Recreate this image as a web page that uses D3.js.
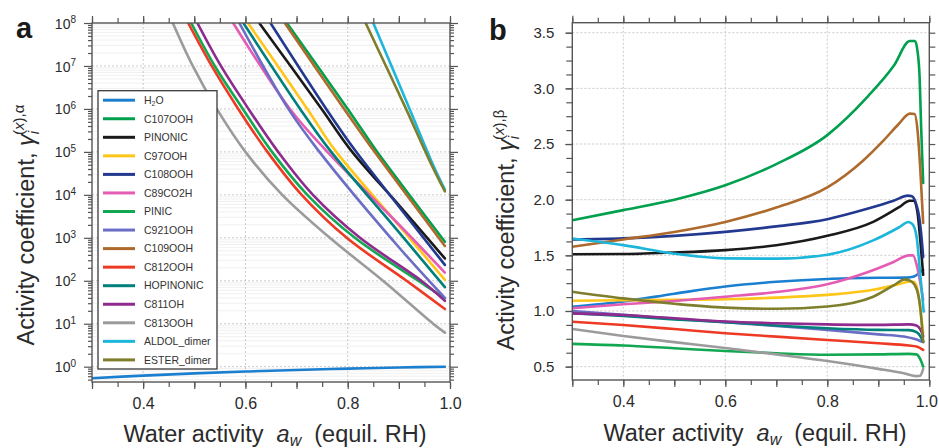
<!DOCTYPE html>
<html><head><meta charset="utf-8">
<script src="https://cdn.jsdelivr.net/npm/d3@7"></script>
<style>
body{margin:0;background:#fff;}
svg{display:block;}
</style></head><body>
<svg id="chart" width="939" height="448"></svg>
<script>
// ---------- data ----------
const seriesNames = ["H2O","C107OOH","PINONIC","C97OOH","C108OOH","C89CO2H","PINIC","C921OOH","C109OOH","C812OOH","HOPINONIC","C811OH","C813OOH","ALDOL_dimer","ESTER_dimer"];
const seriesColors = ["#1b7fd0","#00a04e","#1a1a1a","#ffc619","#22398f","#e45cb3","#12a852","#6b6ec4","#ae6a2c","#ee3a24","#00807a","#8f2a8f","#9b9b9b","#1db6db","#7e7e2c"];

const xTickValues = [0.4, 0.6, 0.8, 1.0];
const xTickLabels = ["0.4", "0.6", "0.8", "1.0"];
const yTickValuesA = [1e0, 1e1, 1e2, 1e3, 1e4, 1e5, 1e6, 1e7, 1e8];
const yTickExponentsA = ["0","1","2","3","4","5","6","7","8"];
const yTickValuesB = [0.5, 1.0, 1.5, 2.0, 2.5, 3.0, 3.5];
const yTickLabelsB = ["0.5","1.0","1.5","2.0","2.5","3.0","3.5"];

// panel a: [water activity, gamma (x),alpha]
const a_H2O       = [[0.30,0.54],[0.40,0.62],[0.50,0.70],[0.60,0.77],[0.70,0.84],[0.80,0.90],[0.90,0.96],[0.99,1.0]];
const a_C107OOH   = [[0.681,1e8],[0.800,1e6],[0.855,1.1e5],[0.900,2.09e4],[0.990,813]];
const a_PINONIC   = [[0.627,1e8],[0.749,1e6],[0.806,1.1e5],[0.900,5750],[0.990,331]];
const a_C97OOH    = [[0.605,1e8],[0.721,1e6],[0.775,1.1e5],[0.900,1950],[0.990,105]];
const a_C108OOH   = [[0.649,1e8],[0.758,1e6],[0.814,1.1e5],[0.900,5370],[0.990,234]];
const a_C89CO2H   = [[0.576,1e8],[0.687,1e6],[0.757,1.1e5],[0.900,2040],[0.990,155]];
const a_PINIC     = [[0.494,1e8],[0.540,1e7],[0.595,1e6],[0.652,1e5],[0.721,1e4],[0.814,1e3],[0.938,1e2],[0.990,39]];
const a_C921OOH   = [[0.588,1e8],[0.684,1e6],[0.742,1.1e5],[0.900,603],[0.990,40]];
const a_C109OOH   = [[0.677,1e8],[0.793,1e6],[0.850,1.1e5],[0.900,1.74e4],[0.990,646]];
const a_C812OOH   = [[0.488,1e8],[0.534,1e7],[0.586,1e6],[0.643,1e5],[0.710,1e4],[0.798,1e3],[0.915,1e2],[0.990,22]];
const a_HOPINONIC = [[0.596,1e8],[0.707,1e6],[0.765,1.1e5],[0.900,1350],[0.990,71]];
const a_C811OH    = [[0.506,1e8],[0.552,1e7],[0.606,1e6],[0.664,1e5],[0.732,1e4],[0.824,1e3],[0.944,1e2],[0.990,34]];
const a_C813OOH   = [[0.458,1e8],[0.497,1e7],[0.544,1e6],[0.600,1e5],[0.672,1e4],[0.765,1e3],[0.869,1e2],[0.967,10],[0.990,6.2]];
const a_ALDOL     = [[0.850,1e8],[0.921,1e6],[0.967,4.95e4],[0.990,1.32e4]];
const a_ESTER     = [[0.835,1e8],[0.914,1e6],[0.964,4.95e4],[0.990,1.2e4]];

// panel b: [water activity, gamma (x),beta]
const b_H2O       = [[0.30,1.038],[0.40,1.085],[0.50,1.155],[0.60,1.22],[0.70,1.262],[0.80,1.288],[0.90,1.298],[0.955,1.30],[0.97,1.31],[0.98,1.34],[0.988,1.37]];
const b_C107OOH   = [[0.30,1.816],[0.40,1.906],[0.50,2.00],[0.60,2.13],[0.70,2.32],[0.80,2.58],[0.88,2.93],[0.93,3.20],[0.962,3.425],[0.972,3.425],[0.977,3.33],[0.981,3.10],[0.984,2.65],[0.988,2.15]];
const b_PINONIC   = [[0.30,1.51],[0.40,1.512],[0.50,1.525],[0.60,1.547],[0.70,1.59],[0.80,1.675],[0.89,1.80],[0.94,1.93],[0.962,1.99],[0.970,1.99],[0.977,1.88],[0.983,1.60],[0.988,1.325]];
const b_C97OOH    = [[0.30,1.092],[0.40,1.096],[0.50,1.10],[0.60,1.105],[0.70,1.12],[0.80,1.145],[0.89,1.19],[0.94,1.24],[0.962,1.265],[0.970,1.26],[0.977,1.19],[0.983,1.0],[0.988,0.80]];
const b_C108OOH   = [[0.30,1.643],[0.40,1.652],[0.50,1.675],[0.60,1.711],[0.70,1.76],[0.80,1.825],[0.88,1.92],[0.93,1.99],[0.958,2.036],[0.966,2.03],[0.975,1.95],[0.980,1.85],[0.984,1.70],[0.988,1.484]];
const b_C89CO2H   = [[0.30,1.024],[0.40,1.06],[0.50,1.09],[0.60,1.128],[0.70,1.17],[0.80,1.24],[0.88,1.35],[0.93,1.44],[0.960,1.50],[0.968,1.50],[0.976,1.40],[0.982,1.26],[0.988,1.10]];
const b_PINIC     = [[0.30,0.705],[0.40,0.69],[0.50,0.665],[0.60,0.64],[0.70,0.62],[0.80,0.607],[0.90,0.61],[0.96,0.615],[0.975,0.61],[0.982,0.57],[0.988,0.50]];
const b_C921OOH   = [[0.30,1.0],[0.40,0.965],[0.50,0.93],[0.60,0.90],[0.70,0.865],[0.80,0.83],[0.90,0.79],[0.95,0.77],[0.97,0.75],[0.98,0.735],[0.988,0.72]];
const b_C109OOH   = [[0.30,1.577],[0.40,1.643],[0.50,1.71],[0.60,1.80],[0.70,1.93],[0.80,2.11],[0.87,2.35],[0.91,2.53],[0.94,2.68],[0.962,2.773],[0.971,2.77],[0.977,2.62],[0.982,2.30],[0.988,1.79]];
const b_C812OOH   = [[0.30,0.904],[0.40,0.874],[0.50,0.838],[0.60,0.80],[0.70,0.77],[0.80,0.74],[0.90,0.71],[0.96,0.69],[0.975,0.68],[0.988,0.65]];
const b_HOPINONIC = [[0.30,0.98],[0.40,0.955],[0.50,0.925],[0.60,0.90],[0.70,0.87],[0.80,0.845],[0.90,0.83],[0.96,0.828],[0.975,0.81],[0.983,0.77],[0.988,0.725]];
const b_C811OH    = [[0.30,0.979],[0.40,0.964],[0.50,0.935],[0.60,0.905],[0.70,0.89],[0.80,0.88],[0.90,0.875],[0.96,0.88],[0.975,0.87],[0.983,0.83],[0.988,0.775]];
const b_C813OOH   = [[0.30,0.838],[0.40,0.775],[0.50,0.72],[0.60,0.668],[0.70,0.61],[0.80,0.55],[0.90,0.48],[0.95,0.44],[0.975,0.415],[0.982,0.418],[0.988,0.48]];
const b_ALDOL     = [[0.30,1.652],[0.40,1.592],[0.50,1.515],[0.60,1.473],[0.70,1.47],[0.80,1.505],[0.89,1.634],[0.94,1.75],[0.959,1.80],[0.967,1.78],[0.975,1.67],[0.982,1.34],[0.989,0.995]];
const b_ESTER     = [[0.30,1.173],[0.40,1.113],[0.50,1.065],[0.60,1.03],[0.70,1.02],[0.80,1.04],[0.89,1.128],[0.93,1.23],[0.952,1.284],[0.965,1.265],[0.975,1.20],[0.982,1.04],[0.988,0.724]];

const panelAData = [a_H2O,a_C107OOH,a_PINONIC,a_C97OOH,a_C108OOH,a_C89CO2H,a_PINIC,a_C921OOH,a_C109OOH,a_C812OOH,a_HOPINONIC,a_C811OH,a_C813OOH,a_ALDOL,a_ESTER];
const panelBData = [b_H2O,b_C107OOH,b_PINONIC,b_C97OOH,b_C108OOH,b_C89CO2H,b_PINIC,b_C921OOH,b_C109OOH,b_C812OOH,b_HOPINONIC,b_C811OH,b_C813OOH,b_ALDOL,b_ESTER];

// ---------- drawing ----------
const FONT = '"Liberation Sans", Arial, Helvetica, sans-serif';
const AXIS = "#555";
const TXT = "#2b2b2b";
const svg = d3.select("#chart").style("font-family", FONT);

const xA = d3.scaleLinear().domain([0.3, 1.0]).range([92, 450]);
const yA = d3.scaleLog().domain([0.44, 1e8]).range([382, 23]);
const xB = d3.scaleLinear().domain([0.3, 1.0]).range([572.3, 929.3]);
const yB = d3.scaleLinear().domain([0.38, 3.59]).range([380, 22.7]);

const xMinor = d3.range(0.3, 1.0001, 0.05).map(v => +v.toFixed(2));
const xMid = d3.range(0.3, 1.0001, 0.1).map(v => +v.toFixed(2));

const defs = svg.append("defs");
defs.append("clipPath").attr("id","clipA").append("rect")
  .attr("x",xA(0.3)).attr("y",yA(1e8)).attr("width",xA(1)-xA(0.3)).attr("height",yA(0.44)-yA(1e8));
defs.append("clipPath").attr("id","clipB").append("rect")
  .attr("x",xB(0.3)).attr("y",yB(3.59)).attr("width",xB(1)-xB(0.3)).attr("height",yB(0.38)-yB(3.59));

function styleAxis(g, fs) {
  g.select(".domain").remove();
  g.attr("font-family", FONT).attr("font-size", fs);
  g.selectAll("line").attr("stroke", AXIS).attr("stroke-width", 1.2);
  g.selectAll("text").attr("fill", TXT);
  return g;
}

// ===== Panel a =====
const gA = svg.append("g");
const minorLog = [];
for (let d = -1; d <= 7; d++) for (let m = 2; m <= 9; m++) { const v = m * Math.pow(10, d); if (v > 0.44 && v < 1e8) minorLog.push(v); }
gA.append("g").selectAll("line").data(minorLog).join("line")
  .attr("x1", xA(0.3)).attr("x2", xA(1)).attr("y1", d => yA(d)).attr("y2", d => yA(d))
  .attr("stroke", "#ececec").attr("stroke-width", 0.8);
gA.append("g").selectAll("line").data(yTickValuesA.slice(0, 8)).join("line")
  .attr("x1", xA(0.3)).attr("x2", xA(1)).attr("y1", d => yA(d)).attr("y2", d => yA(d))
  .attr("stroke", "#c4c4c4").attr("stroke-width", 0.9).attr("stroke-dasharray", "2,2");
gA.append("g").selectAll("line").data([0.4, 0.6, 0.8]).join("line")
  .attr("x1", d => xA(d)).attr("x2", d => xA(d)).attr("y1", yA(1e8)).attr("y2", yA(0.44))
  .attr("stroke", "#c4c4c4").attr("stroke-width", 0.9).attr("stroke-dasharray", "2,2");

const lineA = d3.line().x(d => xA(d[0])).y(d => yA(d[1])).curve(d3.curveCatmullRom.alpha(0.5));
gA.append("g").attr("clip-path", "url(#clipA)").selectAll("path").data(panelAData).join("path")
  .attr("d", lineA).attr("fill", "none").attr("stroke", (d, i) => seriesColors[i])
  .attr("stroke-width", 2.6).attr("stroke-linejoin", "round").attr("stroke-linecap", "round");

// axes a
styleAxis(gA.append("g").attr("transform", `translate(0,${yA(0.44)})`)
  .call(d3.axisBottom(xA).tickValues(xMinor).tickSize(5).tickFormat("")), 16);
styleAxis(gA.append("g").attr("transform", `translate(0,${yA(0.44)})`)
  .call(d3.axisBottom(xA).tickValues(xMid).tickSize(7).tickPadding(9)
    .tickFormat(d => { const i = xTickValues.findIndex(v => Math.abs(v - d) < 1e-6); return i >= 0 ? xTickLabels[i] : ""; })), 16);
styleAxis(gA.append("g").attr("transform", `translate(0,${yA(1e8)})`)
  .call(d3.axisTop(xA).tickValues(xMinor).tickSize(5).tickFormat("")), 16);
styleAxis(gA.append("g").attr("transform", `translate(0,${yA(1e8)})`)
  .call(d3.axisTop(xA).tickValues(xMid).tickSize(7).tickFormat("")), 16);
styleAxis(gA.append("g").attr("transform", `translate(${xA(0.3)},0)`)
  .call(d3.axisLeft(yA).tickValues(minorLog).tickSize(4).tickFormat("")), 14);
const yAxA = styleAxis(gA.append("g").attr("transform", `translate(${xA(0.3)},0)`)
  .call(d3.axisLeft(yA).tickValues(yTickValuesA).tickSize(8).tickPadding(8).tickFormat("")), 14);
yAxA.selectAll(".tick").each(function(d, i) {
  const t = d3.select(this).select("text");
  t.text(null).attr("dy", "0.36em");
  t.append("tspan").text("10");
  t.append("tspan").attr("dy", "-0.55em").attr("font-size", 10).text(yTickExponentsA[i]);
});
styleAxis(gA.append("g").attr("transform", `translate(${xA(1)},0)`)
  .call(d3.axisRight(yA).tickValues(minorLog).tickSize(4).tickFormat("")), 14);
styleAxis(gA.append("g").attr("transform", `translate(${xA(1)},0)`)
  .call(d3.axisRight(yA).tickValues(yTickValuesA).tickSize(8).tickFormat("")), 14);
gA.append("rect").attr("x", xA(0.3)).attr("y", yA(1e8)).attr("width", xA(1) - xA(0.3)).attr("height", yA(0.44) - yA(1e8))
  .attr("fill", "none").attr("stroke", AXIS).attr("stroke-width", 1.4);

// legend
const leg = gA.append("g");
leg.append("rect").attr("x", 98).attr("y", 90.7).attr("width", 119).attr("height", 278.3)
  .attr("fill", "#fff").attr("stroke", "#3a3a3a").attr("stroke-width", 1.3);
seriesNames.forEach((name, i) => {
  const yy = 100.2 + i * 18.55;
  leg.append("line").attr("x1", 103).attr("x2", 135).attr("y1", yy).attr("y2", yy)
    .attr("stroke", seriesColors[i]).attr("stroke-width", 3);
  const t = leg.append("text").attr("x", 144).attr("y", yy).attr("dy", "0.36em")
    .attr("font-size", 10.5).attr("fill", "#333");
  if (name === "H2O") {
    t.append("tspan").text("H");
    t.append("tspan").attr("font-size", 7).attr("dy", 2).text("2");
    t.append("tspan").attr("dy", -2).text("O");
  } else t.text(name);
});

// ===== Panel b =====
const gB = svg.append("g");
gB.append("g").selectAll("line").data(yTickValuesB).join("line")
  .attr("x1", xB(0.3)).attr("x2", xB(1)).attr("y1", d => yB(d)).attr("y2", d => yB(d))
  .attr("stroke", "#c4c4c4").attr("stroke-width", 0.9).attr("stroke-dasharray", "2,2");
gB.append("g").selectAll("line").data([0.4, 0.6, 0.8]).join("line")
  .attr("x1", d => xB(d)).attr("x2", d => xB(d)).attr("y1", yB(3.59)).attr("y2", yB(0.38))
  .attr("stroke", "#c4c4c4").attr("stroke-width", 0.9).attr("stroke-dasharray", "2,2");

const lineB = d3.line().x(d => xB(d[0])).y(d => yB(d[1])).curve(d3.curveMonotoneX);
gB.append("g").attr("clip-path", "url(#clipB)").selectAll("path").data(panelBData).join("path")
  .attr("d", lineB).attr("fill", "none").attr("stroke", (d, i) => seriesColors[i])
  .attr("stroke-width", 2.6).attr("stroke-linejoin", "round").attr("stroke-linecap", "round");

const yMinorB = d3.range(0.5, 3.5001, 0.125);
styleAxis(gB.append("g").attr("transform", `translate(0,${yB(0.38)})`)
  .call(d3.axisBottom(xB).tickValues(xMinor).tickSize(5).tickFormat("")), 16);
const xAxB = styleAxis(gB.append("g").attr("transform", `translate(0,${yB(0.38)})`)
  .call(d3.axisBottom(xB).tickValues(xMid).tickSize(7).tickPadding(9)
    .tickFormat(d => { const i = xTickValues.findIndex(v => Math.abs(v - d) < 1e-6); return i >= 0 ? xTickLabels[i] : ""; })), 16);
xAxB.selectAll(".tick text").filter(d => d > 0.99).attr("dx", -3);
styleAxis(gB.append("g").attr("transform", `translate(0,${yB(3.59)})`)
  .call(d3.axisTop(xB).tickValues(xMinor).tickSize(5).tickFormat("")), 16);
styleAxis(gB.append("g").attr("transform", `translate(0,${yB(3.59)})`)
  .call(d3.axisTop(xB).tickValues(xMid).tickSize(7).tickFormat("")), 16);
styleAxis(gB.append("g").attr("transform", `translate(${xB(0.3)},0)`)
  .call(d3.axisLeft(yB).tickValues(yMinorB).tickSize(6).tickFormat("")), 15);
styleAxis(gB.append("g").attr("transform", `translate(${xB(0.3)},0)`)
  .call(d3.axisLeft(yB).tickValues(yTickValuesB).tickSize(7).tickPadding(11).tickFormat((d, i) => yTickLabelsB[i])), 15);
styleAxis(gB.append("g").attr("transform", `translate(${xB(1)},0)`)
  .call(d3.axisRight(yB).tickValues(yMinorB).tickSize(6).tickFormat("")), 15);
gB.append("rect").attr("x", xB(0.3)).attr("y", yB(3.59)).attr("width", xB(1) - xB(0.3)).attr("height", yB(0.38) - yB(3.59))
  .attr("fill", "none").attr("stroke", AXIS).attr("stroke-width", 1.4);

// ===== titles =====
function yTitle(x, cy, sup) {
  const t = svg.append("text").attr("transform", `translate(${x},${cy}) rotate(-90)`)
    .attr("text-anchor", "middle").attr("font-size", 23.5).attr("fill", TXT);
  t.append("tspan").text("Activity coefficient, ");
  t.append("tspan").attr("font-style", "italic").text("γ");
  t.append("tspan").attr("font-style", "italic").attr("font-size", 15).attr("dy", 5).text("i");
  t.append("tspan").attr("font-size", 15).attr("dx", -4).attr("dy", -15).text("(");
  t.append("tspan").attr("font-size", 15).attr("font-style", "italic").text("x");
  t.append("tspan").attr("font-size", 15).text(")," + sup);
}
yTitle(34, 225, "α");
yTitle(514, 230, "β");

function xTitle(cx, y) {
  const t = svg.append("text").attr("x", cx).attr("y", y).attr("text-anchor", "middle")
    .attr("font-size", 23.5).attr("fill", TXT).style("white-space", "pre");
  t.append("tspan").text("Water activity  ");
  t.append("tspan").attr("font-style", "italic").text("a");
  t.append("tspan").attr("font-style", "italic").attr("font-size", 16).attr("dy", 4).text("w");
  t.append("tspan").attr("dy", -4).text("  (equil. RH)");
}
xTitle(275, 442);
xTitle(755, 441);

svg.append("text").attr("x", 16).attr("y", 38).attr("font-size", 29).attr("font-weight", "bold").attr("fill", "#1a1a1a").text("a");
svg.append("text").attr("x", 489).attr("y", 40).attr("font-size", 29).attr("font-weight", "bold").attr("fill", "#1a1a1a").text("b");
</script>
</body></html>
